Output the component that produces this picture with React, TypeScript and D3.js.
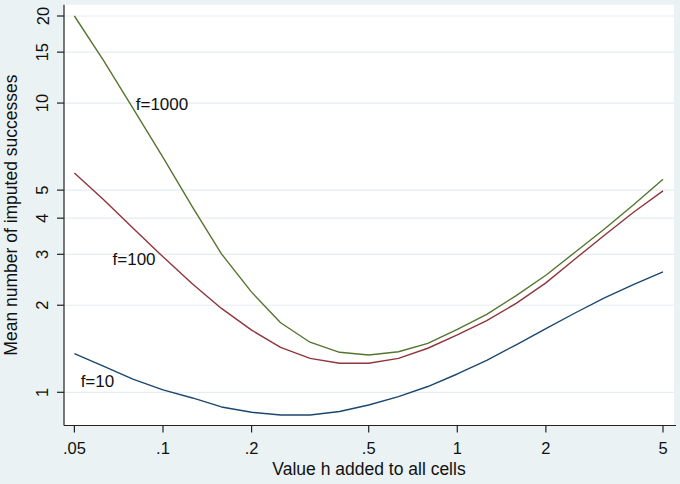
import React from "react";
import * as d3 from "d3";

// h values (log-spaced) and mean imputed successes per f
const hValues = [0.05, 0.063, 0.079, 0.1, 0.126, 0.158, 0.2, 0.251, 0.316, 0.398, 0.5, 0.631, 0.794, 1, 1.259, 1.585, 2, 2.512, 3.162, 3.981, 5];
const f10 = [1.36, 1.23, 1.11, 1.02, 0.956, 0.89, 0.853, 0.835, 0.835, 0.858, 0.904, 0.966, 1.047, 1.157, 1.29, 1.46, 1.66, 1.88, 2.12, 2.36, 2.61];
const f100 = [5.73, 4.62, 3.7, 2.94, 2.37, 1.95, 1.64, 1.43, 1.31, 1.26, 1.26, 1.31, 1.42, 1.58, 1.77, 2.03, 2.39, 2.89, 3.49, 4.2, 4.97];
const f1000 = [20.0, 13.96, 9.61, 6.49, 4.37, 3.01, 2.22, 1.74, 1.49, 1.375, 1.346, 1.381, 1.477, 1.65, 1.86, 2.16, 2.54, 3.05, 3.67, 4.46, 5.45];

const seriesNames = ["f=10", "f=100", "f=1000"];
const seriesColors = ["#1A476F", "#90353B", "#55752F"];
const labelPos = [
  { h: 0.0525, v: 1.046 },
  { h: 0.0674, v: 2.755 },
  { h: 0.0808, v: 9.47 },
];

const xTicks = [0.05, 0.1, 0.2, 0.5, 1, 2, 5];
const xTickLabels = [".05", ".1", ".2", ".5", "1", "2", "5"];
const yTicks = [1, 2, 3, 4, 5, 10, 15, 20];
const yTickLabels = ["1", "2", "3", "4", "5", "10", "15", "20"];

const W = 680;
const H = 484;
const plot = { left: 64, right: 674, top: 4.7, bottom: 425.5 };
const FONT = "'Liberation Sans', Arial, Helvetica, sans-serif";

export default function App() {
  const x = d3.scaleLog().domain([0.05, 5]).range([74.4, 663]);
  const y = d3.scaleLog().domain([1, 20]).range([392.3, 16]);
  const line = d3
    .line<[number, number]>()
    .x((d) => x(d[0]))
    .y((d) => y(d[1]));
  const allSeries = [f10, f100, f1000];

  return (
    <svg
      width={W}
      height={H}
      style={{ position: "absolute", left: 0, top: 0, display: "block" }}
      fontFamily={FONT}
    >
      <rect x={0} y={0} width={W} height={H} fill="#EAF2F3" />
      <rect
        x={plot.left}
        y={plot.top}
        width={plot.right - plot.left}
        height={plot.bottom - plot.top}
        fill="#FFFFFF"
      />
      {/* gridlines */}
      {yTicks.map((t) => (
        <line
          key={"g" + t}
          x1={plot.left}
          x2={plot.right}
          y1={y(t)}
          y2={y(t)}
          stroke="#E5EDF0"
          strokeWidth={1.2}
        />
      ))}
      {/* series */}
      {allSeries.map((s, i) => (
        <path
          key={"s" + i}
          d={line(hValues.map((h, j) => [h, s[j]] as [number, number])) || ""}
          fill="none"
          stroke={seriesColors[i]}
          strokeWidth={1.4}
          strokeLinejoin="round"
        />
      ))}
      {/* series labels */}
      {seriesNames.map((n, i) => (
        <text
          key={"l" + i}
          x={x(labelPos[i].h)}
          y={y(labelPos[i].v)}
          fontSize={17}
          fill="#111"
        >
          {n}
        </text>
      ))}
      {/* axes */}
      <line x1={plot.left} x2={plot.left} y1={plot.top} y2={plot.bottom} stroke="#222" strokeWidth={1.2} />
      <line x1={plot.left} x2={plot.right + 2} y1={plot.bottom} y2={plot.bottom} stroke="#222" strokeWidth={1.2} />
      {yTicks.map((t, i) => (
        <g key={"yt" + t}>
          <line x1={plot.left - 7} x2={plot.left} y1={y(t)} y2={y(t)} stroke="#222" strokeWidth={1.2} />
          <text
            x={48.5}
            y={y(t)}
            transform={`rotate(-90, 48.5, ${y(t)})`}
            textAnchor="middle"
            fontSize={16.5}
            fill="#111"
          >
            {yTickLabels[i]}
          </text>
        </g>
      ))}
      {xTicks.map((t, i) => (
        <g key={"xt" + t}>
          <line x1={x(t)} x2={x(t)} y1={plot.bottom} y2={plot.bottom + 7} stroke="#222" strokeWidth={1.2} />
          <text x={x(t)} y={453.5} textAnchor="middle" fontSize={16.5} fill="#111">
            {xTickLabels[i]}
          </text>
        </g>
      ))}
      <text x={(plot.left + plot.right) / 2} y={474.5} textAnchor="middle" fontSize={17.5} fill="#111">
        Value h added to all cells
      </text>
      <text
        x={17}
        y={(plot.top + plot.bottom) / 2}
        transform={`rotate(-90, 17, ${(plot.top + plot.bottom) / 2})`}
        textAnchor="middle"
        fontSize={17.5}
        fill="#111"
      >
        Mean number of imputed successes
      </text>
    </svg>
  );
}
